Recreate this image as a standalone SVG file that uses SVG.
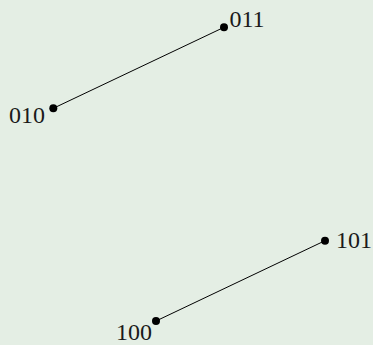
<svg xmlns="http://www.w3.org/2000/svg" width="373" height="345" viewBox="0 0 373 345">
<style>
.lbl{font-family:"Liberation Serif","DejaVu Serif",serif;font-size:24px;fill:#1a1a1a}
.dot{fill:#000}
.edge{stroke:#000;stroke-width:1;fill:none}
</style>
<rect width="373" height="345" fill="#e4eee4"/>
<g id="connectors">
<line class="edge" x1="53.3" y1="108.3" x2="224" y2="27.3"/>
<line class="edge" x1="156" y1="321" x2="325" y2="240.7"/>
</g>
<g id="n011"><circle class="dot" cx="224" cy="27.3" r="4"/><text class="lbl" x="229.5" y="27">011</text></g>
<g id="n010"><circle class="dot" cx="53.3" cy="108.3" r="4"/><text class="lbl" x="9" y="122.5">010</text></g>
<g id="n101"><circle class="dot" cx="325" cy="240.7" r="4"/><text class="lbl" x="336" y="248">101</text></g>
<g id="n100"><circle class="dot" cx="156" cy="321" r="4"/><text class="lbl" x="116" y="340">100</text></g>
</svg>
